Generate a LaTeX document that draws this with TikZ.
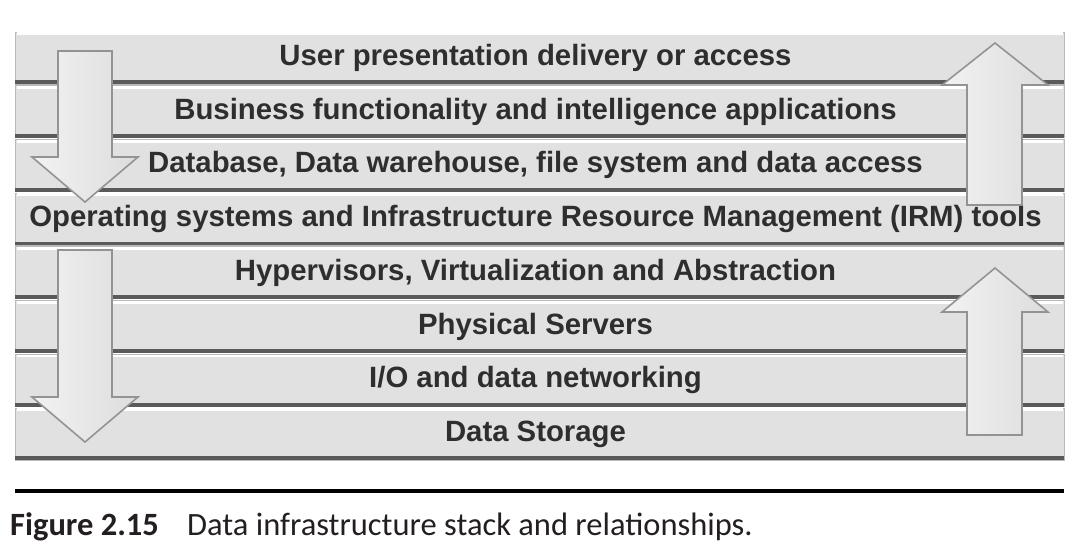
\documentclass[tikz,border=0pt]{standalone}
\usepackage{fontspec}
\setmainfont{Liberation Sans}
\newfontfamily\capfont{Carlito}
\definecolor{barfill}{HTML}{E1E1E1}
\definecolor{barshadow}{HTML}{5A5A5A}
\definecolor{labeltext}{HTML}{2E2E2E}
\definecolor{arrowfill}{HTML}{DADADA}
\definecolor{arrowedge}{HTML}{939393}
\definecolor{captext}{HTML}{231F20}

\begin{document}
\begin{tikzpicture}[x=0.02cm,y=-0.02cm]
% Define common styles
\tikzset{
    layer/.style={draw=gray!55, fill=barfill, minimum width=20.98cm, minimum height=1.04cm, inner sep=0pt, text=labeltext, font=\fontsize{16.7}{19}\selectfont\bfseries, execute at end node={\hspace{0.16cm}}},
    shadeline/.style={draw=barshadow, line width=2.2pt},
    glint/.style={draw=white, line width=1.6pt},
    bigarrow/.style={left color=gray!10, right color=gray!27, draw=arrowedge, line width=0.9pt, line join=miter},
    caption/.style={anchor=west, text=captext, font=\capfont\fontsize{18.5}{20}\selectfont}
}
\useasboundingbox (0,0) rectangle (1084,552);

% Stack of layers
\node[layer] (l1) at (539.5,58.0) {User presentation delivery or access};
\node[layer] (l2) at (539.5,111.7) {Business functionality and intelligence applications};
\node[layer] (l3) at (539.5,165.4) {Database, Data warehouse, file system and data access};
\node[layer] (l4) at (539.5,219.1) {Operating systems and Infrastructure Resource Management (IRM) tools};
\node[layer] (l5) at (539.5,272.8) {Hypervisors, Virtualization and Abstraction};
\node[layer] (l6) at (539.5,326.5) {Physical Servers};
\node[layer] (l7) at (539.5,380.2) {I/O and data networking};
\node[layer] (l8) at (539.5,433.9) {Data Storage};

% bevel lines on each layer
\foreach \i in {1,...,8} {
    \draw[shadeline] ([yshift=1.1pt]l\i.south west) -- ([yshift=1.1pt]l\i.south east);
    \draw[glint] ([yshift=-1.2pt,xshift=1pt]l\i.north west) -- ([yshift=-1.2pt,xshift=-1pt]l\i.north east);
}

% Down arrows (left side)
\draw[bigarrow] (58,51) -- (112,51) -- (112,157) -- (138,157) -- (85,202) -- (32,157) -- (58,157) -- cycle;
\draw[bigarrow] (58,250) -- (112,250) -- (112,397) -- (138,397) -- (85,442) -- (32,397) -- (58,397) -- cycle;

% Up arrows (right side)
\draw[bigarrow] (967,205) -- (1022,205) -- (1022,85) -- (1048,85) -- (995,43) -- (942,85) -- (967,85) -- cycle;
\draw[bigarrow] (967,435) -- (1022,435) -- (1022,312) -- (1048,312) -- (995,268) -- (942,312) -- (967,312) -- cycle;

% Caption
\coordinate (ruleL) at (15,491);
\coordinate (ruleR) at (1064,491);
\draw[line width=2.2pt] (ruleL) -- (ruleR);
\node[caption] (fignum) at (4,527) {\bfseries Figure 2.15};
\node[caption] (figtext) at (181,527) {Data infrastructure stack and relationships.};

\end{tikzpicture}
\end{document}
